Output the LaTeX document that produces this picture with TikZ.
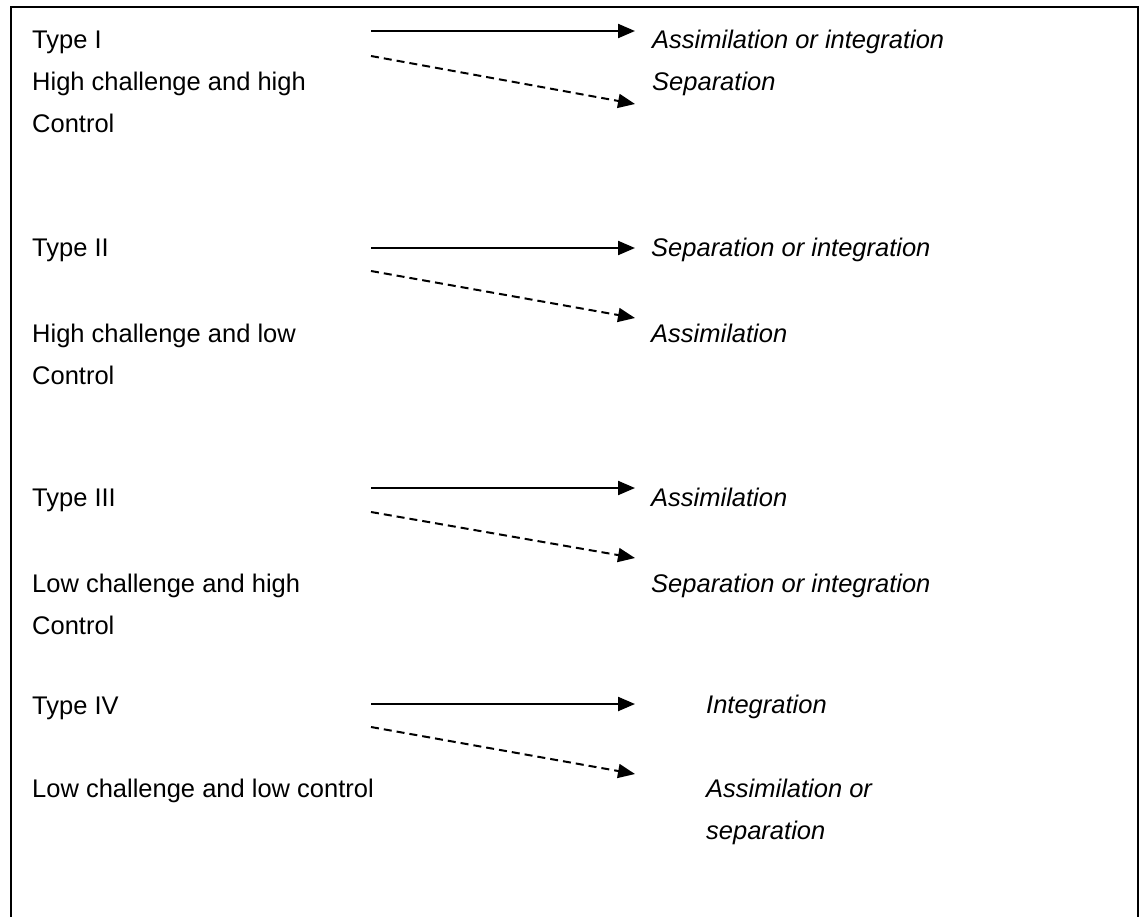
\documentclass[tikz,border=0pt]{standalone}
\usepackage{fontspec}
\setmainfont{Liberation Sans}
\usetikzlibrary{arrows.meta}
\begin{document}
\begin{tikzpicture}[x=1pt,y=-1pt,
  lbl/.style={anchor=base west,inner sep=0pt,font=\fontsize{25.5}{30}\selectfont},
  res/.style={lbl,font=\fontsize{25.5}{30}\selectfont\itshape},
  solidarrow/.style={line width=2.2pt,-{Triangle[length=17pt,width=14pt]}},
  dasharrow/.style={line width=2pt,dash pattern=on 8pt off 5pt,-{Triangle[length=17pt,width=14pt]}}]
\useasboundingbox (0,0) rectangle (1140,916);
\draw[line width=2pt] (11,7) rectangle (1138,960);
% left labels
\node[lbl] (t1) at (32,48) {Type I};
\node[lbl] (t1a) at (32,90) {High challenge and high};
\node[lbl] (t1b) at (32,132) {Control};
\node[lbl] (t2) at (32,256) {Type II};
\node[lbl] (t2a) at (32,342) {High challenge and low};
\node[lbl] (t2b) at (32,384) {Control};
\node[lbl] (t3) at (32,506) {Type III};
\node[lbl] (t3a) at (32,592) {Low challenge and high};
\node[lbl] (t3b) at (32,634) {Control};
\node[lbl] (t4) at (32,714) {Type IV};
\node[lbl] (t4a) at (32,797) {Low challenge and low control};
% right labels
\node[res] (r1a) at (652,48) {Assimilation or integration};
\node[res] (r1b) at (652,90) {Separation};
\node[res] (r2a) at (651,256) {Separation or integration};
\node[res] (r2b) at (651,342) {Assimilation};
\node[res] (r3a) at (651,506) {Assimilation};
\node[res] (r3b) at (651,592) {Separation or integration};
\node[res] (r4a) at (706,713) {Integration};
\node[res] (r4b) at (706,797) {Assimilation or};
\node[res] (r4c) at (706,839) {separation};
% arrow ends
\coordinate (s1) at (371,31);  \coordinate (e1) at (635,31);
\coordinate (d1) at (371,56);  \coordinate (f1) at (635,104);
\coordinate (s2) at (371,248); \coordinate (e2) at (635,248);
\coordinate (d2) at (371,271); \coordinate (f2) at (635,318);
\coordinate (s3) at (371,488); \coordinate (e3) at (635,488);
\coordinate (d3) at (371,512); \coordinate (f3) at (635,558);
\coordinate (s4) at (371,704); \coordinate (e4) at (635,704);
\coordinate (d4) at (371,727); \coordinate (f4) at (635,774);
\draw[solidarrow] (s1) -- (e1);
\draw[dasharrow] (d1) -- (f1);
\draw[solidarrow] (s2) -- (e2);
\draw[dasharrow] (d2) -- (f2);
\draw[solidarrow] (s3) -- (e3);
\draw[dasharrow] (d3) -- (f3);
\draw[solidarrow] (s4) -- (e4);
\draw[dasharrow] (d4) -- (f4);
\end{tikzpicture}
\end{document}
